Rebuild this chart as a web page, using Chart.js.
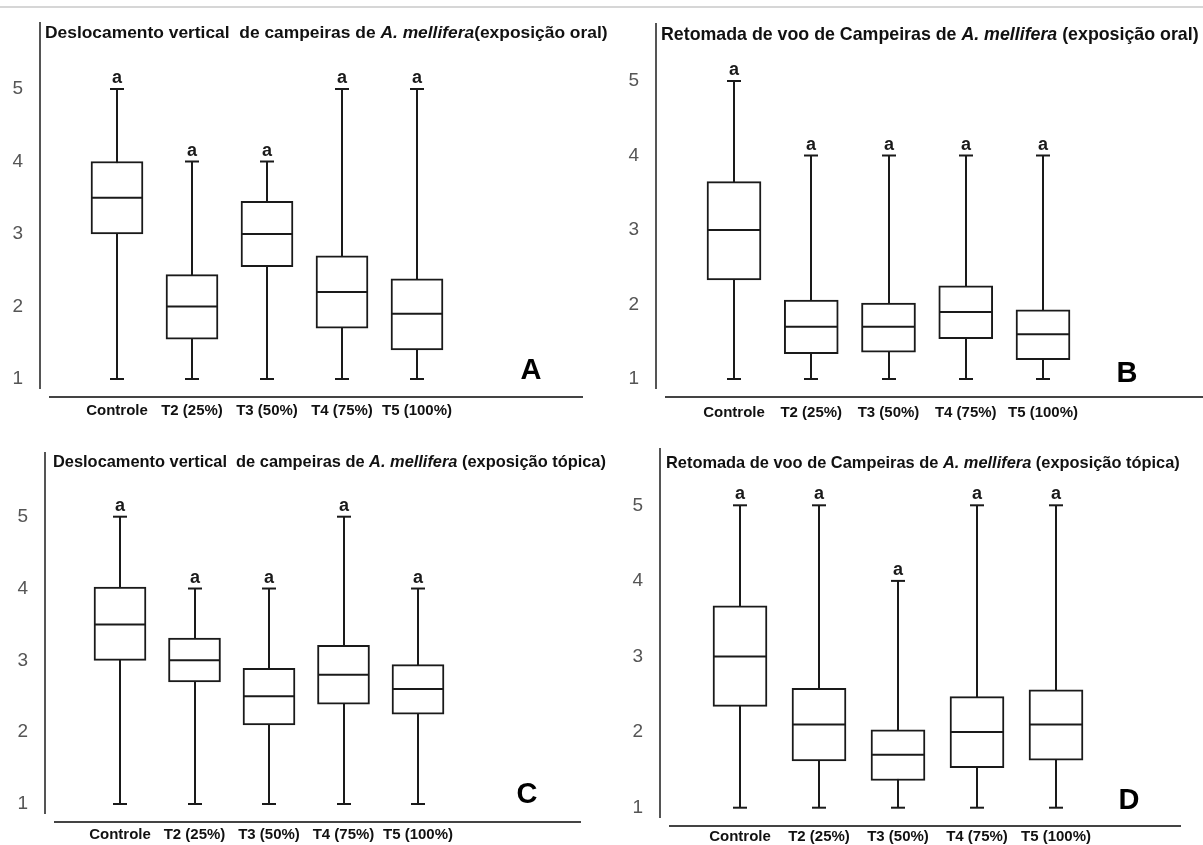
<!DOCTYPE html>
<html lang="pt">
<head>
<meta charset="utf-8">
<title>Campeiras de A. mellifera</title>
<script src="https://cdn.jsdelivr.net/npm/chart.js@4.4.1/dist/chart.umd.min.js"></script>
<style>
  html, body { margin: 0; padding: 0; background: #fff; }
  #page { position: relative; width: 1203px; height: 845px; overflow: hidden; }
  #topline { position: absolute; left: 0; top: 6px; width: 1203px; border-top: 2px solid #d6d6d6; }
  canvas { position: absolute; }
</style>
</head>
<body>
<div id="page">
  <div id="topline"></div>
  <canvas id="chartA" style="left:0;top:0" width="625" height="420"></canvas>
  <canvas id="chartC" style="left:0;top:420px" width="625" height="425"></canvas>
  <canvas id="chartB" style="left:600px;top:0" width="603" height="420"></canvas>
  <canvas id="chartD" style="left:600px;top:420px" width="603" height="425"></canvas>
</div>
<script>
const categories = ['Controle', 'T2 (25%)', 'T3 (50%)', 'T4 (75%)', 'T5 (100%)'];
const groups = [1, 2, 3, 4, 5];
const yTicks = [1, 2, 3, 4, 5];

// A - deslocamento vertical, exposição oral
const minA = [1, 1, 1, 1, 1];
const q1A = [3, 1.55, 2.55, 1.7, 1.4];
const medA = [3.5, 2, 3, 2.2, 1.9];
const q3A = [4, 2.44, 3.45, 2.7, 2.38];
const maxA = [5, 4, 4, 5, 5];
const letrasA = ['a', 'a', 'a', 'a', 'a'];

// B - retomada de voo, exposição oral
const minB = [1, 1, 1, 1, 1];
const q1B = [2.33, 1.34, 1.36, 1.54, 1.26];
const medB = [3, 1.7, 1.7, 1.9, 1.6];
const q3B = [3.65, 2.06, 2.02, 2.25, 1.93];
const maxB = [5, 4, 4, 4, 4];
const letrasB = ['a', 'a', 'a', 'a', 'a'];

// C - deslocamento vertical, exposição tópica
const minC = [1, 1, 1, 1, 1];
const q1C = [3, 2.7, 2.1, 2.39, 2.25];
const medC = [3.5, 3, 2.5, 2.8, 2.6];
const q3C = [4.02, 3.31, 2.89, 3.21, 2.94];
const maxC = [5, 4, 4, 5, 4];
const letrasC = ['a', 'a', 'a', 'a', 'a'];

// D - retomada de voo, exposição tópica
const minD = [1, 1, 1, 1, 1];
const q1D = [2.34, 1.62, 1.36, 1.53, 1.63];
const medD = [3, 2.1, 1.7, 2, 2.1];
const q3D = [3.67, 2.58, 2.03, 2.47, 2.56];
const maxD = [5, 5, 4, 5, 5];
const letrasD = ['a', 'a', 'a', 'a', 'a'];

const FONT = '"Liberation Sans", Arial, Helvetica, sans-serif';
const NARROW = '"Liberation Sans Narrow", "Arial Narrow", "Liberation Sans", sans-serif';
const INK = '#1a1a1a';

const panels = [
  {
    id: 'chartA', tag: 'A',
    title: [['Deslocamento vertical  de campeiras de ', false], ['A. mellifera', true], ['(exposição oral)', false]],
    min: minA, q1: q1A, med: medA, q3: q3A, max: maxA, letras: letrasA,
    lay: { w: 625, h: 420, left: 40, top: 23, bottom: 388, right: 583, first: 117, step: 75, y1: 379, y5: 89,
           axisY: 397, axisFrom: 49, titleX: 45, titleY: 33, tagX: 531, tagY: 379, barW: 52, titleSize: 17.4, xPad: 14 }
  },
  {
    id: 'chartB', tag: 'B',
    title: [['Retomada de voo de Campeiras de ', false], ['A. mellifera', true], [' (exposição oral)', false]],
    min: minB, q1: q1B, med: medB, q3: q3B, max: maxB, letras: letrasB,
    lay: { w: 603, h: 420, left: 56, top: 24, bottom: 388, right: 603, first: 134, step: 77.25, y1: 379, y5: 81,
           axisY: 397, axisFrom: 65, titleX: 61, titleY: 35, tagX: 527, tagY: 382, barW: 54, titleSize: 17.8, xPad: 16 }
  },
  {
    id: 'chartC', tag: 'C',
    title: [['Deslocamento vertical  de campeiras de ', false], ['A. mellifera', true], [' (exposição tópica)', false]],
    min: minC, q1: q1C, med: medC, q3: q3C, max: maxC, letras: letrasC,
    lay: { w: 625, h: 425, left: 45, top: 33, bottom: 393, right: 581, first: 120, step: 74.5, y1: 384, y5: 96.7,
           axisY: 402, axisFrom: 54, titleX: 53, titleY: 42, tagX: 527, tagY: 383, barW: 52, titleSize: 16.4, xPad: 13 }
  },
  {
    id: 'chartD', tag: 'D',
    title: [['Retomada de voo de Campeiras de ', false], ['A. mellifera', true], [' (exposição tópica)', false]],
    min: minD, q1: q1D, med: medD, q3: q3D, max: maxD, letras: letrasD,
    lay: { w: 603, h: 425, left: 60, top: 29, bottom: 397, right: 581, first: 140, step: 79, y1: 387.7, y5: 85.3,
           axisY: 406, axisFrom: 69, titleX: 66, titleY: 43, tagX: 529, tagY: 389, barW: 54, titleSize: 16.4, xPad: 11 }
  }
];

// whiskers, caps, medians, letters, title and the loose x axis line
function boxDecor(p) {
  return {
    id: 'boxDecor',
    beforeDatasetsDraw(chart) {
      const { ctx, scales: { x, y } } = chart;
      ctx.save();
      ctx.strokeStyle = INK;
      ctx.lineWidth = 2;
      groups.forEach((g, i) => {
        const px = Math.round(x.getPixelForValue(g));
        ctx.beginPath();
        ctx.moveTo(px, y.getPixelForValue(p.min[i]));
        ctx.lineTo(px, y.getPixelForValue(p.max[i]));
        ctx.stroke();
      });
      ctx.restore();
    },
    afterDatasetsDraw(chart) {
      const { ctx, scales: { x, y } } = chart;
      const bars = chart.getDatasetMeta(0).data;
      ctx.save();
      ctx.strokeStyle = INK;
      ctx.lineWidth = 2;
      groups.forEach((g, i) => {
        const px = Math.round(x.getPixelForValue(g));
        const half = bars[i].width / 2;
        [p.min[i], p.max[i]].forEach(v => {
          const py = y.getPixelForValue(v);
          ctx.beginPath();
          ctx.moveTo(px - 7, py);
          ctx.lineTo(px + 7, py);
          ctx.stroke();
        });
        const pm = y.getPixelForValue(p.med[i]);
        ctx.beginPath();
        ctx.moveTo(px - half + 1, pm);
        ctx.lineTo(px + half - 1, pm);
        ctx.stroke();

        ctx.fillStyle = INK;
        ctx.font = 'bold 18px ' + FONT;
        ctx.textAlign = 'center';
        ctx.textBaseline = 'alphabetic';
        ctx.fillText(p.letras[i], px, y.getPixelForValue(p.max[i]) - 6);
      });

      // x axis line, detached from the y axis
      ctx.strokeStyle = '#444';
      ctx.beginPath();
      ctx.moveTo(p.lay.axisFrom, p.lay.axisY);
      ctx.lineTo(chart.chartArea.right, p.lay.axisY);
      ctx.stroke();

      // title with italic species name
      let tx = p.lay.titleX;
      ctx.textAlign = 'left';
      ctx.textBaseline = 'middle';
      ctx.fillStyle = '#111';
      p.title.forEach(([txt, it]) => {
        ctx.font = (it ? 'italic ' : '') + 'bold ' + p.lay.titleSize + 'px ' + FONT;
        ctx.fillText(txt, tx, p.lay.titleY);
        tx += ctx.measureText(txt).width;
      });

      // panel tag
      ctx.font = 'bold 29px ' + FONT;
      ctx.textAlign = 'center';
      ctx.textBaseline = 'alphabetic';
      ctx.fillStyle = '#000';
      ctx.fillText(p.tag, p.lay.tagX, p.lay.tagY);
      ctx.restore();
    }
  };
}

panels.forEach(p => {
  const L = p.lay;
  const unit = (L.y1 - L.y5) / 4;
  const yMin = 1 - (L.bottom - L.y1) / unit;
  const yMax = 5 + (L.y5 - L.top) / unit;
  const xMin = 1 - (L.first - L.left) / L.step;
  const xMax = 5 + (L.right - (L.first + 4 * L.step)) / L.step;

  const ctx = document.getElementById(p.id).getContext('2d');
  new Chart(ctx, {
    type: 'bar',
    data: {
      datasets: [{
        data: groups.map((g, i) => ({ x: g, y: [p.q1[i], p.q3[i]] })),
        backgroundColor: '#ffffff',
        borderColor: INK,
        borderWidth: 2,
        borderSkipped: false,
        barThickness: L.barW
      }]
    },
    options: {
      responsive: false,
      animation: false,
      events: [],
      layout: { padding: { top: L.top, right: L.w - L.right, bottom: 0, left: 0 } },
      plugins: { legend: { display: false }, tooltip: { enabled: false } },
      scales: {
        x: {
          type: 'linear',
          min: xMin,
          max: xMax,
          offset: false,
          grid: { display: false, drawTicks: false },
          border: { display: false },
          afterBuildTicks: s => { s.ticks = groups.map(v => ({ value: v })); },
          afterFit: s => { s.height = L.h - L.bottom; s.paddingLeft = 0; s.paddingRight = 0; },
          ticks: {
            autoSkip: false,
            maxRotation: 0,
            minRotation: 0,
            padding: L.xPad,
            color: '#111',
            font: { family: FONT, size: 15, weight: 'bold' },
            callback: v => categories[v - 1]
          }
        },
        y: {
          type: 'linear',
          min: yMin,
          max: yMax,
          grid: { display: false, drawTicks: false },
          border: { display: true, color: '#555', width: 2 },
          afterBuildTicks: s => { s.ticks = yTicks.map(v => ({ value: v })); },
          afterFit: s => { s.width = L.left; s.paddingTop = 0; s.paddingBottom = 0; },
          ticks: {
            padding: 17,
            color: '#555',
            font: { family: NARROW, size: 19 }
          }
        }
      }
    },
    plugins: [boxDecor(p)]
  });
});
</script>
</body>
</html>
